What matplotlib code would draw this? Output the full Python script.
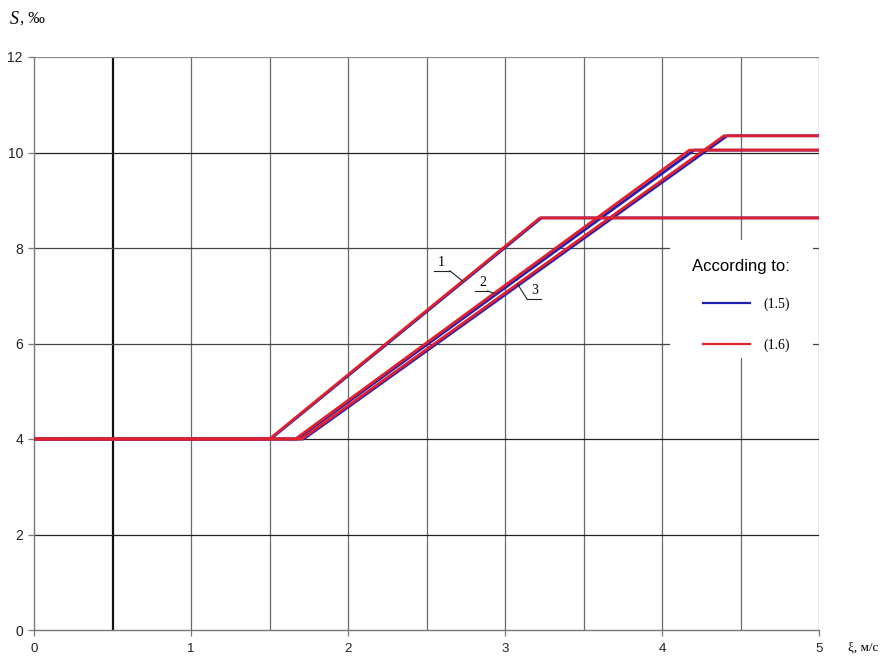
import matplotlib
matplotlib.use("Agg")
import matplotlib.pyplot as plt
from matplotlib.lines import Line2D
from matplotlib.patches import Rectangle
import numpy as np

# Slope S (‰) versus velocity ξ (m/s): flat at S_min, linear rise, then flat at S_max
s_min = 4.0
s_max = [8.63, 10.05, 10.35]          # plateau for curves 1, 2, 3
x_end = 5.0

# break points (start of rise, start of plateau) for each formula
knots_15 = [(1.507, 3.232), (1.677, 4.205), (1.717, 4.415)]   # formula (1.5)
knots_16 = [(1.500, 3.222), (1.665, 4.175), (1.705, 4.395)]   # formula (1.6)

curve_labels = ["1", "2", "3"]
legend_title = "According to:"
legend_labels = ["(1.5)", "(1.6)"]
x_ticks = [0, 1, 2, 3, 4, 5]
y_ticks = [0, 2, 4, 6, 8, 10, 12]

blue = "#1f1fb4"
red = "#e0202c"

W, H = 885, 658
fig = plt.figure(figsize=(W / 100, H / 100), dpi=100)
ax = fig.add_axes([34 / W, 28 / H, 785 / W, 573 / H])
ax.set_xlim(0, 5)
ax.set_ylim(0, 12)

# grid
for xv in np.arange(0.5, 5.01, 0.5):
    if abs(xv - 0.5) < 1e-9:
        ax.axvline(xv, color="#111111", lw=1.6, zorder=1)
    else:
        ax.axvline(xv, color="#6a6a6a", lw=0.9, zorder=1)
for yv in [2, 4, 6, 8, 10]:
    col = "#222222" if yv in (2, 4, 10) else "#444444"
    ax.axhline(yv, color=col, lw=0.9, zorder=1)
ax.axhline(12, color="#8a8a8a", lw=0.9, zorder=1)

def curve(knots, smax):
    xs = [0.0, knots[0], knots[1], x_end]
    ys = [s_min, s_min, smax, smax]
    return xs, ys

for k, sm in zip(knots_15, s_max):
    xs, ys = curve(k, sm)
    ax.plot(xs, ys, color=blue, lw=2.0, zorder=3)
for k, sm in zip(knots_16, s_max):
    xs, ys = curve(k, sm)
    ax.plot(xs, ys, color=red, lw=2.0, zorder=4)

# curve number callouts: number over a short underline, leader to the curve
def y_on(i, x):
    a, b = knots_16[i]
    return s_min + (x - a) * (s_max[i] - s_min) / (b - a)

callouts = [
    # text x, text y, underline y, underline x0, x1, leader start x, leader end x
    (2.595, 7.56, 7.52, 2.55, 2.65, 2.65, 2.73),
    (2.86, 7.14, 7.10, 2.81, 2.89, 2.89, 2.93),
    (3.19, 6.97, 6.93, 3.14, 3.23, 3.14, 3.08),
]
for i, (tx, ty, uy, u0, u1, ls, le) in enumerate(callouts):
    ax.text(tx, ty, curve_labels[i], fontsize=10, family="Liberation Serif",
            ha="center", va="bottom", zorder=6)
    ax.plot([u0, u1], [uy, uy], color="#222222", lw=0.8, zorder=6)
    ax.plot([ls, le], [uy, y_on(i, le)], color="#222222", lw=0.8, zorder=6)

# spines and ticks
for side in ("top", "right"):
    ax.spines[side].set_visible(False)
for side in ("left", "bottom"):
    ax.spines[side].set_color("#7a7a7a")
    ax.spines[side].set_linewidth(1.0)
ax.set_xticks(x_ticks)
ax.set_yticks(y_ticks)
ax.tick_params(axis="both", direction="out", length=4, width=0.9, color="#7a7a7a",
               labelsize=10, labelcolor="#222222")
ax.tick_params(axis="x", pad=5, labelsize=9.5)
ax.tick_params(axis="y", pad=4)
for lab in ax.get_xticklabels() + ax.get_yticklabels():
    lab.set_family("Liberation Sans")

# axis titles
fig.text(10 / W, 1 - 19 / H, "S", fontsize=13, family="Liberation Serif",
         style="italic", ha="left", va="center")
fig.text(20 / W, 1 - 19 / H, ", ‰", fontsize=12, family="Liberation Serif",
         ha="left", va="center")
fig.text(848 / W, 1 - 648 / H, "ξ, м/с", fontsize=9.5, family="Liberation Serif",
         ha="left", va="center")

# legend: white panel, title, then the two formula entries
def ax_px(px, py):
    return ((px - 34) / 785, (630 - py) / 573)

x0, y0 = ax_px(670, 358)
x1, y1 = ax_px(813, 240)
ax.add_patch(Rectangle((x0, y0), x1 - x0, y1 - y0, transform=ax.transAxes,
                       facecolor="white", edgecolor="none", zorder=9))
tx, ty = ax_px(692, 266)
ax.text(tx, ty, legend_title, transform=ax.transAxes, fontsize=12,
        family="Liberation Sans", ha="left", va="center", zorder=10)

handles = [Line2D([0], [0], color=blue, lw=1.6), Line2D([0], [0], color=red, lw=1.6)]
leg = ax.legend(handles, legend_labels, loc="upper left",
                bbox_to_anchor=ax_px(703, 298), frameon=False,
                borderaxespad=0, borderpad=0,
                handlelength=3.4, handletextpad=0.95, labelspacing=1.95,
                prop={"family": "Liberation Serif", "size": 10})
leg.set_zorder(10)

fig.savefig("out.png", dpi=100, facecolor="white")
